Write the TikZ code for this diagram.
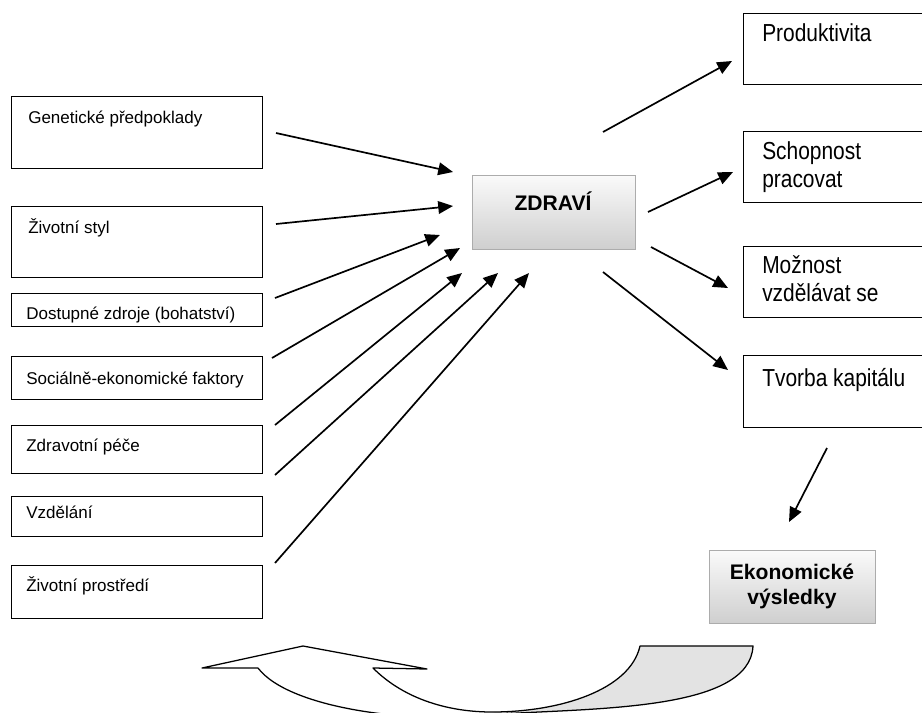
\documentclass[tikz,border=0pt]{standalone}
\usepackage{fontspec}
\setmainfont{Liberation Sans}
\newfontfamily\narrowfont[FakeStretch=0.85]{Liberation Sans}
\usetikzlibrary{arrows.meta}

\tikzset{
  plainbox/.style={draw, line width=0.9pt, anchor=north west, inner sep=0pt},
  lbox/.style={plainbox, minimum width=6.275cm},
  rbox/.style={plainbox, minimum width=5cm, minimum height=1.775cm},
  gbox/.style={draw=gray!65, line width=0.6pt, anchor=north west, inner sep=0pt,
    top color=gray!4, bottom color=gray!38},
  ltxt/.style={anchor=base west, inner sep=0pt, font=\fontsize{12.1}{14.5}\selectfont},
  rtxt/.style={anchor=north west, inner sep=0pt, align=left,
    font=\narrowfont\fontsize{17.5}{20}\selectfont},
  btxt/.style={inner sep=0pt, align=center, font=\bfseries\fontsize{15}{17.8}\selectfont},
  arr/.style={-{Triangle[length=10.5pt,width=9pt]}, line width=1.2pt},
}

\begin{document}
\begin{tikzpicture}[x=0.025cm, y=-0.025cm]
  \useasboundingbox (0,0) rectangle (922,712);
  \clip (0,0) rectangle (922,712);

  % faktory vlevo
  \node[lbox, minimum height=1.8cm]   (gen)    at (11,96)  {};
  \node[lbox, minimum height=1.775cm] (styl)   at (11,206) {};
  \node[lbox, minimum height=0.825cm] (zdroje) at (11,293) {};
  \node[lbox, minimum height=1.075cm] (sef)    at (11,356) {};
  \node[lbox, minimum height=1.2cm]   (pece)   at (11,425) {};
  \node[lbox, minimum height=1.0cm]   (vzd)    at (11,496) {};
  \node[lbox, minimum height=1.325cm] (prostr) at (11,565) {};

  \node[ltxt] (genT)    at (28,123) {Genetické předpoklady};
  \node[ltxt] (stylT)   at (28,233) {Životní styl};
  \node[ltxt] (zdrojeT) at (26,319) {Dostupné zdroje (bohatství)};
  \node[ltxt] (sefT)    at (26,384) {Sociálně-ekonomické faktory};
  \node[ltxt] (peceT)   at (26,451) {Zdravotní péče};
  \node[ltxt] (vzdT)    at (26,518) {Vzdělání};
  \node[ltxt] (prostrT) at (26,591) {Životní prostředí};

  % zdravi a ekonomicke vysledky
  \node[gbox, minimum width=4.075cm, minimum height=1.85cm] (zdravi) at (472,175) {};
  \node[btxt] (zdraviT) at (553,201) {ZDRAVÍ};
  \node[gbox, minimum width=4.15cm, minimum height=1.825cm] (ekon) at (709,550) {};
  \node[btxt] (ekonT) at (792,586) {Ekonomické\\výsledky};

  % dusledky vpravo
  \node[rbox] (prod) at (743,13)  {};
  \node[rbox] (prac) at (743,131) {};
  \node[rbox] (uce)  at (743,246) {};
  \node[rbox, minimum height=1.8cm] (kap) at (743,355) {};

  \node[rtxt] (prodT) at (762,23)  {Produktivita};
  \node[rtxt] (pracT) at (762,141) {Schopnost\\pracovat};
  \node[rtxt] (uceT)  at (762,255) {Možnost\\vzdělávat se};
  \node[rtxt] (kapT)  at (762,368) {Tvorba kapitálu};

  % sipky ke zdravi
  \coordinate (a1) at (276,133); \coordinate (b1) at (453,172);
  \coordinate (a2) at (276,224); \coordinate (b2) at (453,206);
  \coordinate (a3) at (275,298); \coordinate (b3) at (440,235);
  \coordinate (a4) at (272,358); \coordinate (b4) at (460,248);
  \coordinate (a5) at (275,425); \coordinate (b5) at (462,273);
  \coordinate (a6) at (275,475); \coordinate (b6) at (498,273);
  \coordinate (a7) at (275,563); \coordinate (b7) at (529,273);
  \draw[arr] (a1) -- (b1);
  \draw[arr] (a2) -- (b2);
  \draw[arr] (a3) -- (b3);
  \draw[arr] (a4) -- (b4);
  \draw[arr] (a5) -- (b5);
  \draw[arr] (a6) -- (b6);
  \draw[arr] (a7) -- (b7);

  % sipky ze zdravi
  \coordinate (c1) at (603,132); \coordinate (d1) at (732,61);
  \coordinate (c2) at (648,212); \coordinate (d2) at (733,172);
  \coordinate (c3) at (651,247); \coordinate (d3) at (728,288);
  \coordinate (c4) at (603,272); \coordinate (d4) at (728,370);
  \coordinate (c5) at (827,448); \coordinate (d5) at (789,522);
  \draw[arr] (c1) -- (d1);
  \draw[arr] (c2) -- (d2);
  \draw[arr] (c3) -- (d3);
  \draw[arr] (c4) -- (d4);
  \draw[arr] (c5) -- (d5);

  % zpetna vazba
  \fill[gray!22] (492,712) .. controls (560,712) and (630,690) .. (640,646)
    -- (753,646) .. controls (750,710) and (600,708) .. (500,714) -- cycle;
  \draw[line width=0.9pt, line join=round]
    (258,668) -- (202,668) -- (303,646) -- (427,669) -- (373,668)
    .. controls (405,700) and (450,712) .. (492,712)
    .. controls (560,712) and (630,690) .. (640,646) -- (753,646)
    .. controls (750,710) and (600,708) .. (500,714);
  \draw[line width=0.9pt]
    (258,668) .. controls (290,710) and (420,725) .. (500,714);
\end{tikzpicture}
\end{document}
